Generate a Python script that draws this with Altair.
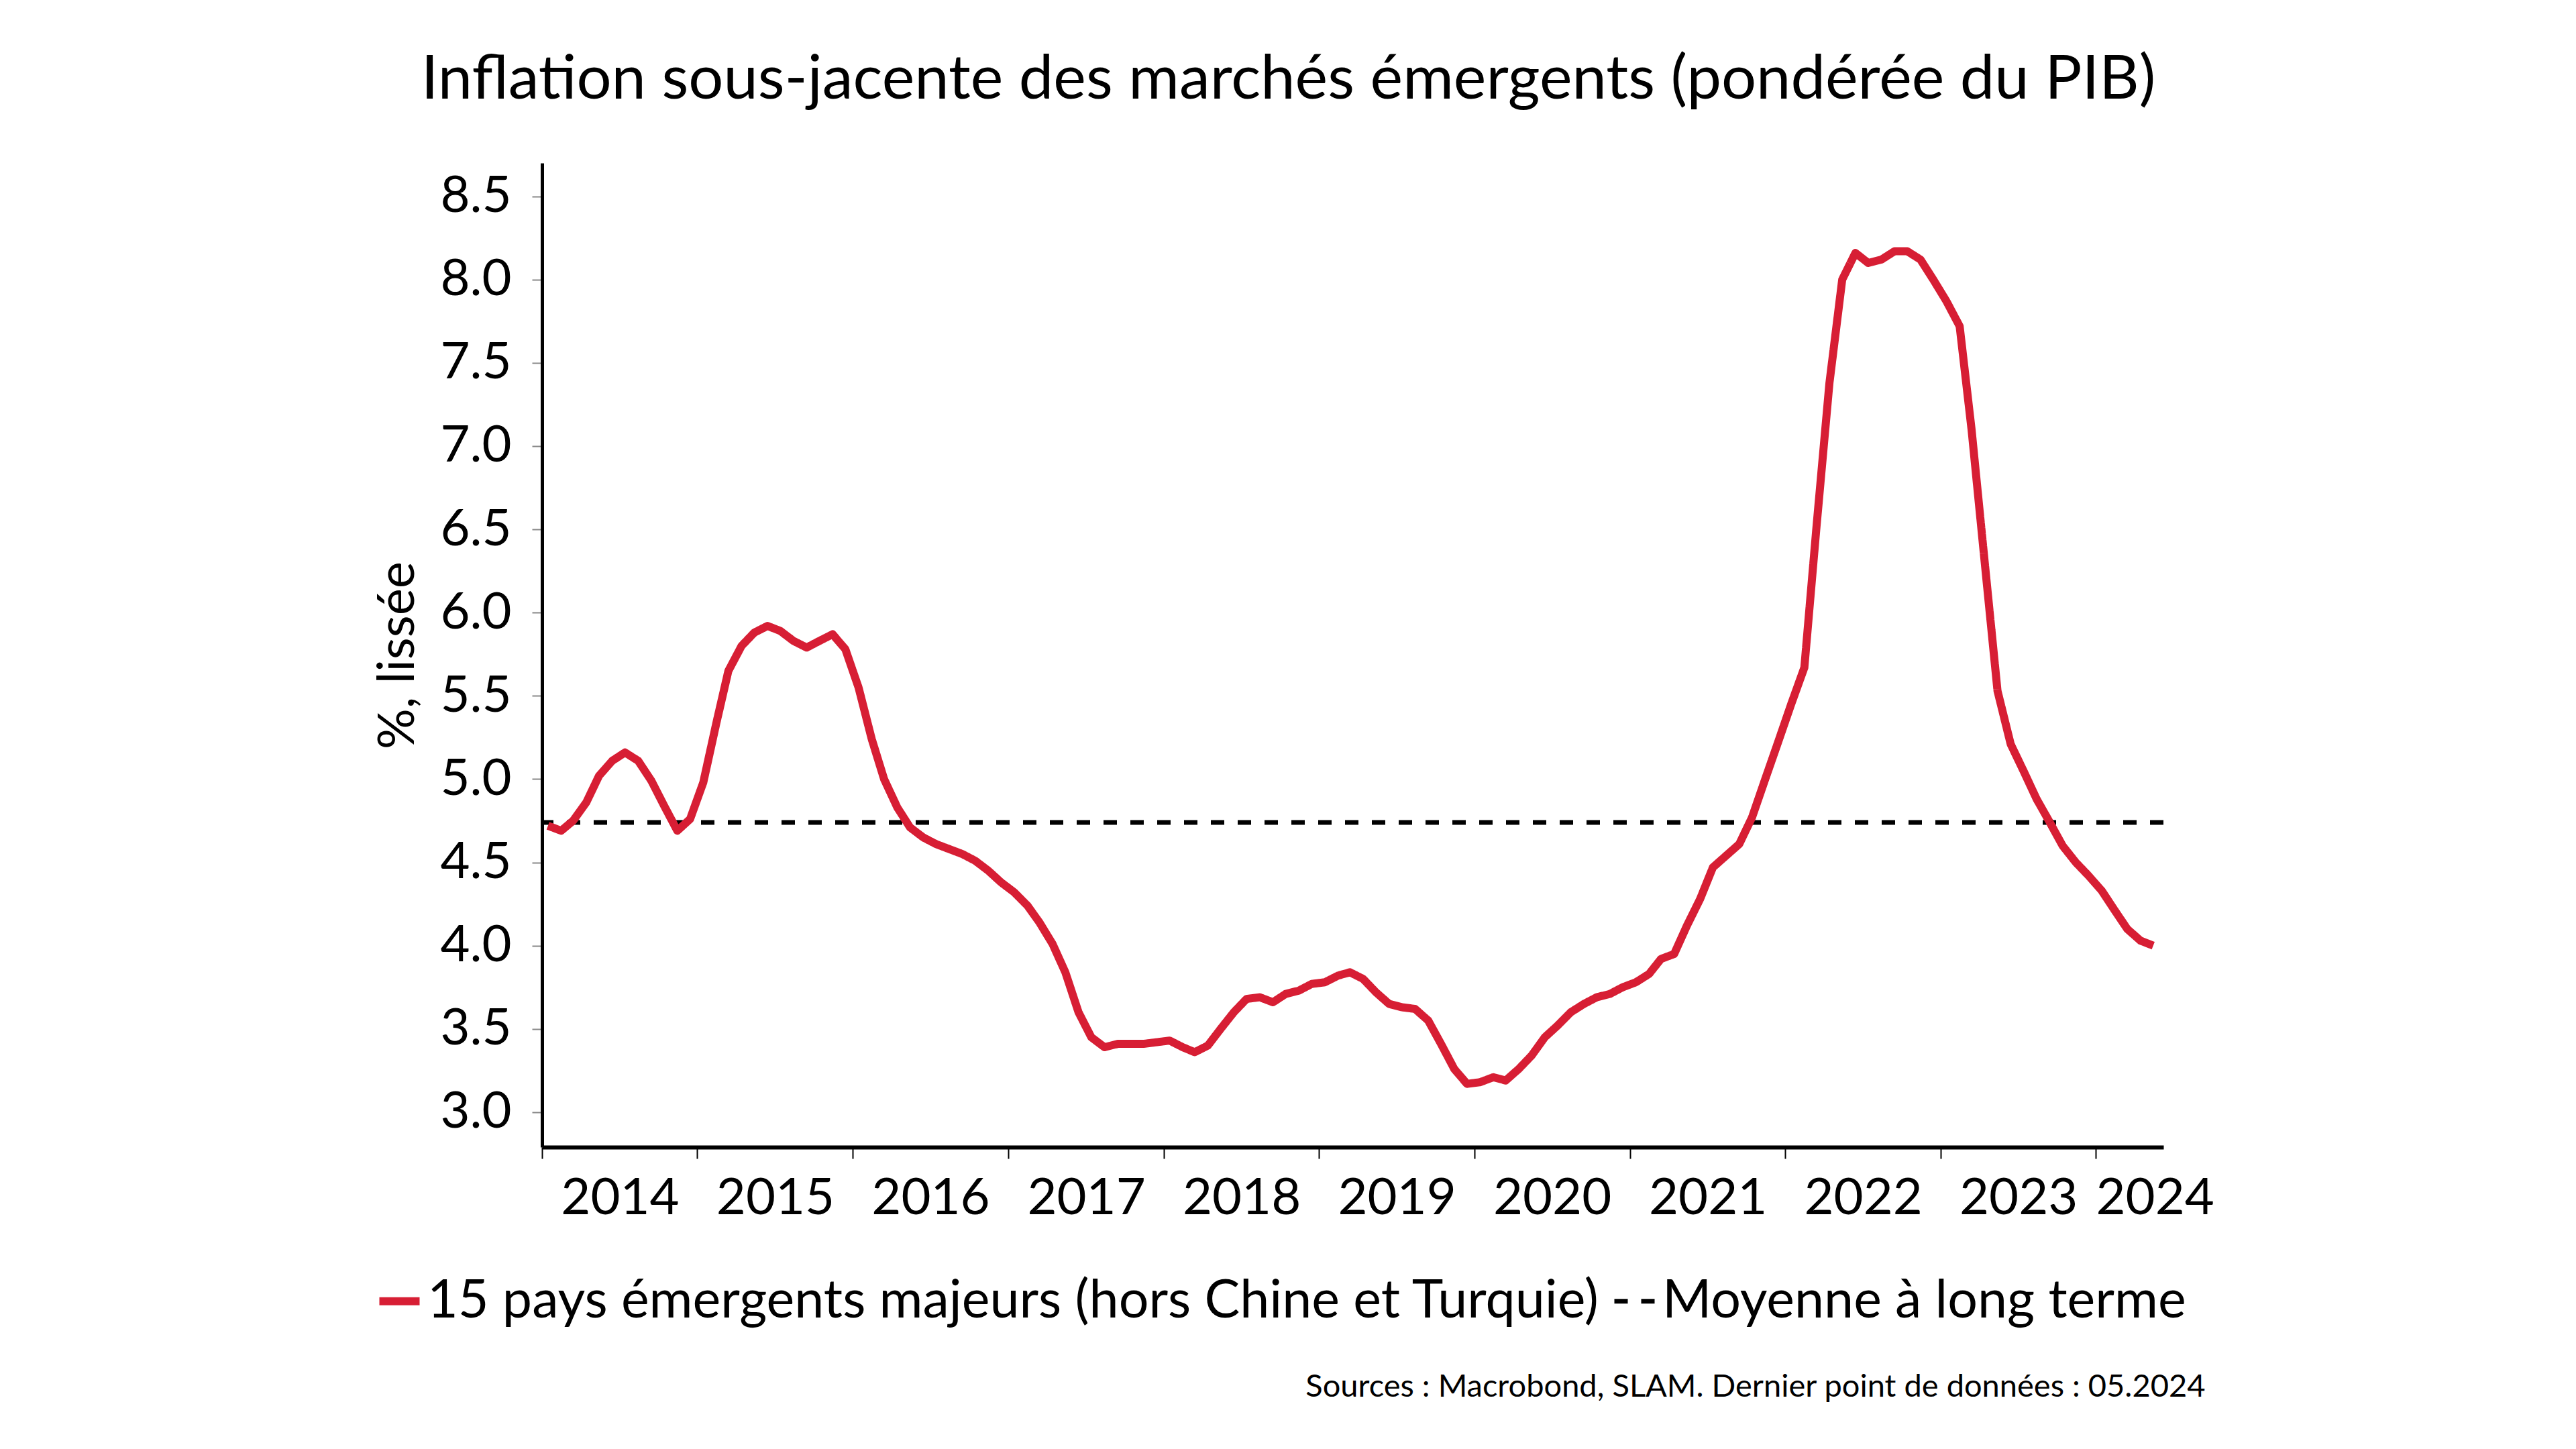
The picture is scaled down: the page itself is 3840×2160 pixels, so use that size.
import altair as alt
import pandas as pd

TITLE = "Inflation sous-jacente des marchés émergents (pondérée du PIB)"
Y_TITLE = "%, lissée"
SOURCE = "Sources : Macrobond, SLAM. Dernier point de données : 05.2024"
S1 = "15 pays émergents majeurs (hors Chine et Turquie)"
S2 = "Moyenne à long terme"

# monthly values, Jan 2014 .. May 2024
v2014 = [4.72, 4.69, 4.75, 4.86, 5.02, 5.11, 5.16, 5.11, 4.99, 4.84, 4.69, 4.76]
v2015 = [4.98, 5.34, 5.65, 5.80, 5.88, 5.92, 5.89, 5.83, 5.79, 5.83, 5.87, 5.78]
v2016 = [5.55, 5.24, 5.00, 4.83, 4.71, 4.65, 4.61, 4.58, 4.55, 4.51, 4.45, 4.38]
v2017 = [4.32, 4.24, 4.14, 4.01, 3.84, 3.60, 3.45, 3.39, 3.41, 3.41, 3.41, 3.42]
v2018 = [3.43, 3.39, 3.36, 3.40, 3.50, 3.60, 3.68, 3.69, 3.66, 3.71, 3.73, 3.77]
v2019 = [3.78, 3.82, 3.84, 3.80, 3.72, 3.65, 3.63, 3.62, 3.55, 3.41, 3.26, 3.17]
v2020 = [3.18, 3.21, 3.19, 3.26, 3.34, 3.45, 3.52, 3.60, 3.65, 3.69, 3.71, 3.75]
v2021 = [3.78, 3.83, 3.92, 3.95, 4.12, 4.28, 4.47, 4.54, 4.61, 4.77, 5.00, 5.22]
v2022 = [5.45, 5.67, 6.50, 7.38, 8.00, 8.16, 8.10, 8.12, 8.17, 8.17, 8.12, 8.00]
v2023 = [7.87, 7.72, 7.10, 6.30, 5.53, 5.21, 5.05, 4.88, 4.74, 4.60, 4.50, 4.42]
v2024 = [4.33, 4.21, 4.10, 4.03, 4.00]
LONG_TERM_MEAN = 4.74

years = list(range(2014, 2025))
yearly = [v2014, v2015, v2016, v2017, v2018, v2019, v2020, v2021, v2022, v2023, v2024]

rows = []
for yr, vals in zip(years, yearly):
    for m, v in enumerate(vals, start=1):
        rows.append({"date": f"{yr}-{m:02d}-15T00:00:00", "value": v, "series": S1})
df = pd.DataFrame(rows)
mean_df = pd.DataFrame({"value": [LONG_TERM_MEAN], "series": [S2]})

FONT = "Lato"
RED = "#d71e34"
W, H = 2417, 1467

color = alt.Color("series:N", scale=alt.Scale(domain=[S1, S2], range=[RED, "#000000"]),
                  legend=alt.Legend(title=None))
dash = alt.StrokeDash("series:N", scale=alt.Scale(domain=[S1, S2], range=[[1, 0], [20, 20]]),
                      legend=alt.Legend(title=None))
swidth = alt.StrokeWidth("series:N", scale=alt.Scale(domain=[S1, S2], range=[12, 7]),
                         legend=alt.Legend(title=None))

x_axis = alt.Axis(
    values=[alt.DateTime(year=y, month=1, date=1) for y in years],
    format="%Y",
    labelOffset={"condition": {"test": "year(datum.value) == 2024", "value": 88}, "value": 116},
    labelFont=FONT, labelFontSize=76, labelColor="#000000", labelPadding=22,
    labelOverlap=False, labelFlush=False, labelBound=False,
    tickSize=17, tickWidth=2, tickColor="#000000",
    domainWidth=6, domainColor="#000000", grid=False,
    title=SOURCE, titleFont=FONT, titleFontSize=47, titleFontWeight="normal",
    titleColor="#000000", titleX=2479, titleY=357, titleAlign="right", titleBaseline="middle",
)
y_axis = alt.Axis(
    values=[3.0, 3.5, 4.0, 4.5, 5.0, 5.5, 6.0, 6.5, 7.0, 7.5, 8.0, 8.5],
    format=".1f",
    labelFont=FONT, labelFontSize=76, labelColor="#000000", labelPadding=31,
    tickSize=15, tickWidth=2, tickColor="#888888",
    domainWidth=5, domainColor="#000000", grid=False,
    title=Y_TITLE, titleFont=FONT, titleFontSize=76, titleFontWeight="normal",
    titleColor="#000000", titleX=-215, titleY=H / 2, titleAlign="center", titleBaseline="middle",
    titleAngle=270,
)

x_scale = alt.Scale(domain=[alt.DateTime(year=2014, month=1, date=1),
                            alt.DateTime(year=2024, month=6, date=8)])
y_scale = alt.Scale(domain=[2.79, 8.7], nice=False, zero=False)

rule = alt.Chart(mean_df).mark_rule().encode(
    y=alt.Y("value:Q", scale=y_scale, axis=y_axis),
    color=color, strokeDash=dash, strokeWidth=swidth,
)
line = alt.Chart(df).mark_line(strokeJoin="round").encode(
    x=alt.X("date:T", scale=x_scale, axis=x_axis),
    y=alt.Y("value:Q", scale=y_scale, axis=y_axis),
    color=color, strokeDash=dash, strokeWidth=swidth,
)

chart = alt.layer(rule, line).properties(
    width=W, height=H,
    background="white",
    padding={"left": 547, "top": 65, "right": 5, "bottom": 5},
    title=alt.TitleParams(TITLE, font=FONT, fontSize=92, fontWeight="normal", color="#000000",
                          anchor="middle", dx=-96, offset=77),
).configure_view(stroke=None).configure_legend(
    orient="none", legendX=-252, legendY=1657, direction="horizontal",
    labelFont=FONT, labelFontSize=79, labelColor="#000000", labelLimit=0,
    symbolType="stroke", symbolSize=3600, labelOffset=2, columnPadding=6,
    symbolOffset=0, padding=0,
)

chart.save("out.html", embed_options={"renderer": "svg", "actions": False})
